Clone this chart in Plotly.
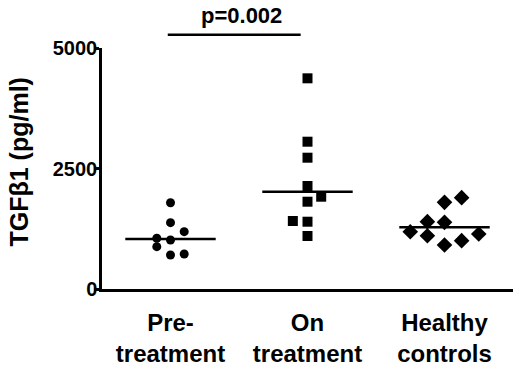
import plotly.graph_objects as go

categories = ["Pre-<br>treatment", "On<br>treatment", "Healthy<br>controls"]
tick_values = [0, 2500, 5000]

pre_values = [1790, 1376, 1189, 1052, 1017, 878, 705, 726]
pre_jitter = [0, 0, 0.1, -0.1, 0, -0.1, 0, 0.1]

on_values = [4371, 3056, 2724, 2137, 1915, 1811, 1411, 1396, 1100]
on_jitter = [0, 0, 0, 0, 0.1, 0, -0.107, 0, 0]

hc_values = [1895, 1798, 1397, 1383, 1189, 1106, 1141, 913, 1003]
hc_jitter = [0.125, 0, -0.125, 0, -0.25, -0.125, 0.25, 0, 0.125]

medians = [1037, 2019, 1280]
p_text = "p=0.002"

FONT = "Arial, Liberation Sans, sans-serif"

fig = go.Figure()

groups = [
    (pre_values, pre_jitter, "circle", 9),
    (on_values, on_jitter, "square", 10),
    (hc_values, hc_jitter, "diamond", 12),
]
for i, (vals, jit, sym, size) in enumerate(groups):
    fig.add_trace(go.Scatter(
        x=[i + j for j in jit], y=vals, mode="markers",
        marker=dict(symbol=sym, size=size, color="black", line=dict(width=0)),
        showlegend=False, cliponaxis=False,
    ))
    fig.add_shape(type="line", xref="x", yref="y",
                  x0=i - 0.33, x1=i + 0.33, y0=medians[i], y1=medians[i],
                  line=dict(color="black", width=2.5))

# significance bracket
fig.add_shape(type="line", xref="x", yref="paper",
              x0=-0.02, x1=0.95, y0=1.055, y1=1.055,
              line=dict(color="black", width=2.5))
fig.add_annotation(x=0.52, xref="x", y=1.075, yref="paper", text=p_text,
                   showarrow=False, yanchor="bottom",
                   font=dict(family=FONT, size=22, color="black", weight="bold"))

# y title
fig.add_annotation(x=0, xref="paper", xshift=-83, y=0.525, yref="paper",
                   text="TGF\u03b21 (pg/ml)", textangle=-90, showarrow=False,
                   xanchor="center", yanchor="middle",
                   font=dict(family=FONT, size=25, color="black", weight="bold"))

fig.update_xaxes(range=[-0.5, 2.5], tickvals=[0, 1, 2], ticktext=categories,
                 showline=True, linecolor="black", linewidth=2.5, ticks="",
                 showgrid=False, zeroline=False, ticklabelstandoff=10,
                 automargin=False,
                 tickfont=dict(family=FONT, size=24, color="black", weight="bold"))
fig.update_yaxes(range=[0, 5000], tickvals=tick_values,
                 showline=True, linecolor="black", linewidth=2.5,
                 ticks="outside", ticklen=5, tickwidth=2.5, tickcolor="black",
                 showgrid=False, zeroline=False, ticklabelstandoff=-7,
                 automargin=False,
                 tickfont=dict(family=FONT, size=20, color="black", weight="bold"))

fig.update_layout(width=520, height=369, margin=dict(l=102, r=7, t=48, b=80),
                  paper_bgcolor="white", plot_bgcolor="white")

fig.write_html("out.html", config={"displayModeBar": False},
               post_script="document.body.style.margin='0';")
